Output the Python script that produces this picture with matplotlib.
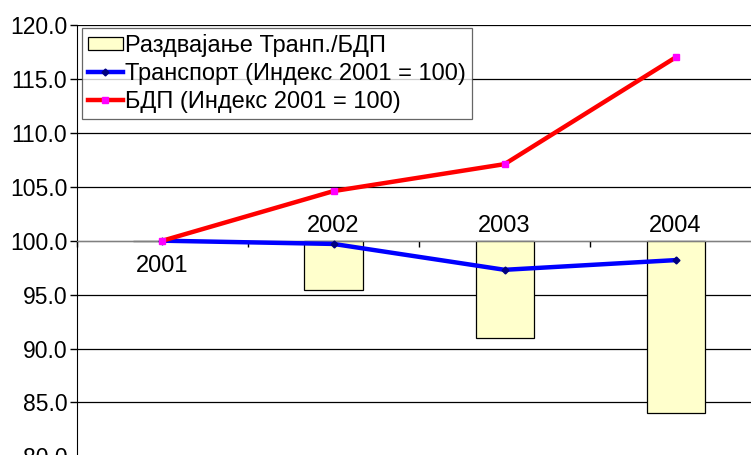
import matplotlib.pyplot as plt
import numpy as np

plt.rcParams['font.family'] = ['Liberation Sans', 'DejaVu Sans']

# data
years = ['2001', '2002', '2003', '2004']
decoupling = [100.0, 95.4, 91.0, 84.0]     # Раздвајање Транп./БДП
transport = [100.0, 99.7, 97.3, 98.2]      # Транспорт (Индекс 2001 = 100)
gdp = [100.0, 104.6, 107.1, 117.0]         # БДП (Индекс 2001 = 100)
yticks = np.arange(80, 121, 5)

base = 100.0
x = np.arange(len(years))

fig = plt.figure(figsize=(7.51, 4.55), dpi=100)
ax = fig.add_axes([0.1025, -0.003, 0.911, 0.948])

h_bar = ax.bar(x, np.array(decoupling) - base, bottom=base, width=0.34,
               color='#FFFFCC', edgecolor='black', linewidth=0.9, zorder=2,
               label='Раздвајање Транп./БДП')
h_tr, = ax.plot(x, transport, color='#0000FF', lw=3.2, marker='D', markersize=3.5,
                markerfacecolor='#000080', markeredgecolor='#000080', zorder=3,
                label='Транспорт (Индекс 2001 = 100)')
h_gdp, = ax.plot(x, gdp, color='#FF0000', lw=3.2, marker='s', markersize=4,
                 markerfacecolor='#FF00FF', markeredgecolor='#FF00FF', zorder=3,
                 label='БДП (Индекс 2001 = 100)')

ax.set_xlim(-0.5, len(years) - 0.5)
ax.set_ylim(80, 120)
ax.set_yticks(yticks)
ax.set_yticklabels([f'{v:.1f}' for v in yticks], fontsize=16.5)
ax.tick_params(axis='y', direction='out', length=5, width=1, pad=2)
ax.yaxis.grid(True, color='black', lw=0.9)
ax.set_axisbelow(True)

# category axis crosses at 100
ax.spines['bottom'].set_position(('data', base))
ax.spines['bottom'].set_color('#808080')
ax.spines['top'].set_visible(False)
ax.spines['right'].set_visible(False)
ax.spines['left'].set_color('black')
ax.set_xticks(np.arange(len(years) + 1) - 0.5)
ax.set_xticklabels([])
ax.tick_params(axis='x', direction='out', length=4, width=1, color='black')

# year labels: below the axis for the first year, above it for the rest
for i, yr in enumerate(years):
    if decoupling[i] >= base:
        ax.annotate(yr, (x[i], base), xytext=(0, -10), textcoords='offset points',
                    ha='center', va='top', fontsize=17)
    else:
        ax.annotate(yr, (x[i], base), xytext=(0, 3), textcoords='offset points',
                    ha='center', va='bottom', fontsize=17)

leg = ax.legend(handles=[h_bar, h_tr, h_gdp], loc='upper left',
                bbox_to_anchor=(0.007, 0.993), fontsize=17,
                frameon=True, fancybox=False, edgecolor='#404040',
                borderpad=0.25, labelspacing=0.25, handlelength=1.5,
                handleheight=0.5, handletextpad=0.1, borderaxespad=0.0)
leg.get_frame().set_linewidth(0.9)

fig.savefig('out.png', dpi=100)
